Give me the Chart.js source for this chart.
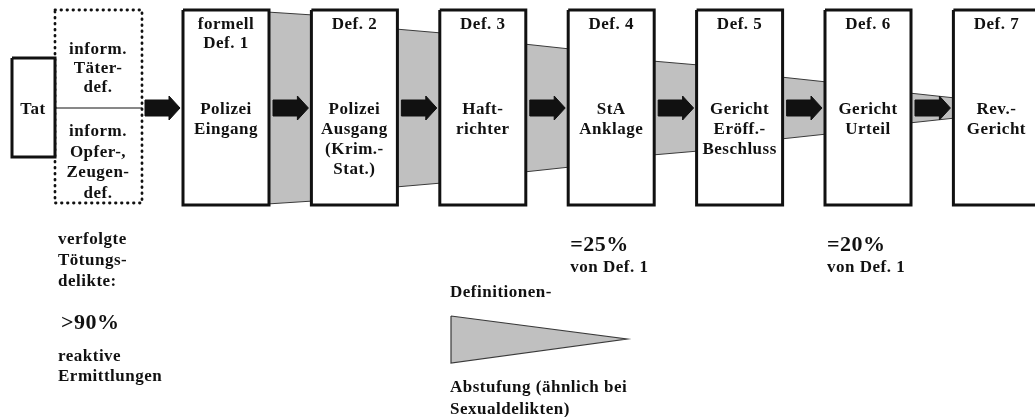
<!DOCTYPE html>
<html>
<head>
<meta charset="utf-8">
<script src="https://cdn.jsdelivr.net/npm/chart.js@4"></script>
<style>
  html, body { margin: 0; padding: 0; background: #fff; }
  #wrap { width: 1035px; height: 417px; position: relative; }
</style>
</head>
<body>
<div id="wrap"><canvas id="chart"></canvas></div>
<script>
/* Definitions funnel: Tat -> informal -> formal Def. 1..7 */

// ---- data ----
const stageHeads = [['formell', 'Def. 1'], ['Def. 2'], ['Def. 3'], ['Def. 4'], ['Def. 5'], ['Def. 6'], ['Def. 7']];
const stageNames = [
  ['Polizei', 'Eingang'],
  ['Polizei', 'Ausgang', '(Krim.-', 'Stat.)'],
  ['Haft-', 'richter'],
  ['StA', 'Anklage'],
  ['Gericht', 'Eröff.-', 'Beschluss'],
  ['Gericht', 'Urteil'],
  ['Rev.-', 'Gericht']
];
// half height of the grey band leaving stage i / entering stage i+1
const flowOut = [96, 79, 64, 47, 31, 15];
const flowIn = [93, 75, 59, 43, 26, 10];
const shareStages = [3, 5];
const shareLabels = ['=25%', '=20%'];
const shareNotes = ['von Def. 1', 'von Def. 1'];
const informalLabels = [['inform.', 'Täter-', 'def.'], ['inform.', 'Opfer-,', 'Zeugen-', 'def.']];
const deedLabel = 'Tat';
const homicideLabels = ['verfolgte', 'Tötungs-', 'delikte:'];
const homicideShare = '>90%';
const homicideNote = ['reaktive', 'Ermittlungen'];
const legendTop = 'Definitionen-';
const legendBottom = ['Abstufung (ähnlich bei', 'Sexualdelikten)'];

// ---- layout ----
const W = 1035, H = 417;
const box0 = 183, pitch = 128.4, boxW = 86, boxTop = 10, boxBot = 205, midY = 108;
const boxL = i => box0 + i * pitch;
const boxR = i => boxL(i) + boxW;
const colors = { band: '#c0c0c0', bandEdge: '#3a3a3a', ink: '#111' };

function rect(x1, y1, x2, y2) {
  return [{x: x1, y: y1}, {x: x2, y: y1}, {x: x2, y: y2}, {x: x1, y: y2}, {x: x1, y: y1}];
}
function arrow(x1, x2) {
  const tip = x2, neck = x2 - 11;
  return [
    {x: x1, y: midY - 8}, {x: neck, y: midY - 8}, {x: neck, y: midY - 12}, {x: tip, y: midY},
    {x: neck, y: midY + 12}, {x: neck, y: midY + 8}, {x: x1, y: midY + 8}, {x: x1, y: midY - 8}
  ];
}
function shape(points, extra) {
  return Object.assign({
    type: 'line', data: points, pointRadius: 0, tension: 0, fill: 'shape',
    borderJoinStyle: 'miter'
  }, extra);
}

const datasets = [];

// grey bands between the formal stages
flowOut.forEach((v, i) => {
  const xa = boxR(i) - 2, xb = boxL(i + 1) + 2;
  datasets.push(shape([
    {x: xa, y: midY - v}, {x: xb, y: midY - flowIn[i]},
    {x: xb, y: midY + flowIn[i]}, {x: xa, y: midY + v}, {x: xa, y: midY - v}
  ], {backgroundColor: colors.band, borderColor: colors.bandEdge, borderWidth: 1, order: 5}));
});

// stage boxes
stageNames.forEach((_, i) => {
  datasets.push(shape(rect(boxL(i), boxTop, boxR(i), boxBot),
    {backgroundColor: '#fff', borderColor: colors.ink, borderWidth: 3, order: 3}));
});

// Tat box, informal box and connector
datasets.push(shape(rect(12, 58, 55, 157), {backgroundColor: '#fff', borderColor: colors.ink, borderWidth: 3, order: 3}));
datasets.push(shape(rect(55, 10, 142, 203), {
  backgroundColor: 'rgba(0,0,0,0)', borderColor: colors.ink, borderWidth: 2.8,
  borderDash: [0.5, 5.5], borderCapStyle: 'round', order: 3
}));
datasets.push(shape([{x: 55, y: midY}, {x: 142, y: midY}], {fill: false, borderColor: colors.ink, borderWidth: 1, order: 3}));

// arrows
datasets.push(shape(arrow(145, 180), {backgroundColor: colors.ink, borderColor: colors.ink, borderWidth: 1, order: 1}));
flowOut.forEach((_, i) => {
  datasets.push(shape(arrow(boxR(i) + 4, boxL(i + 1) - 3),
    {backgroundColor: colors.ink, borderColor: colors.ink, borderWidth: 1, order: 1}));
});

// legend wedge
datasets.push(shape([{x: 451, y: 316}, {x: 627, y: 339}, {x: 451, y: 363}, {x: 451, y: 316}],
  {backgroundColor: colors.band, borderColor: colors.bandEdge, borderWidth: 1.2, order: 3}));

const textPlugin = {
  id: 'diagramText',
  afterDatasetsDraw(chart) {
    const {ctx, scales: {x, y}} = chart;
    const put = (str, vx, vy, size, align) => {
      ctx.font = 'bold ' + size + 'px "Liberation Serif", "Times New Roman", serif';
      ctx.textAlign = align || 'center';
      ctx.fillText(str, x.getPixelForValue(vx), y.getPixelForValue(vy));
    };
    const lines = (arr, vx, vy, step, size, align) =>
      arr.forEach((s, k) => put(s, vx, vy + k * step, size, align));

    ctx.save();
    ctx.fillStyle = colors.ink;
    ctx.textBaseline = 'middle';
    ctx.letterSpacing = '0.5px';

    stageNames.forEach((names, i) => {
      const cx = boxL(i) + boxW / 2;
      lines(stageHeads[i], cx, 25, 19, 17);
      lines(names, cx, 110, 20, 17);
    });

    put(deedLabel, 33, 110, 17);
    lines(informalLabels[0], 98, 50, 19, 17);
    lines(informalLabels[1], 98, 132, 20.5, 17);

    shareStages.forEach((s, k) => {
      put(shareLabels[k], boxL(s) + 2, 245, 22, 'left');
      put(shareNotes[k], boxL(s) + 2, 268, 17, 'left');
    });

    lines(homicideLabels, 58, 240, 21, 17, 'left');
    put(homicideShare, 61, 323, 22, 'left');
    lines(homicideNote, 58, 357, 20, 17, 'left');

    put(legendTop, 450, 293, 17, 'left');
    lines(legendBottom, 450, 388, 22, 17, 'left');
    ctx.restore();
  }
};

new Chart(document.getElementById('chart'), {
  type: 'line',
  data: { datasets },
  options: {
    responsive: true,
    maintainAspectRatio: false,
    animation: false,
    layout: { padding: 0 },
    plugins: { legend: { display: false }, tooltip: { enabled: false } },
    events: [],
    scales: {
      x: { type: 'linear', min: 0, max: W, display: false },
      y: { type: 'linear', min: 0, max: H, reverse: true, display: false }
    }
  },
  plugins: [textPlugin]
});
</script>
</body>
</html>
